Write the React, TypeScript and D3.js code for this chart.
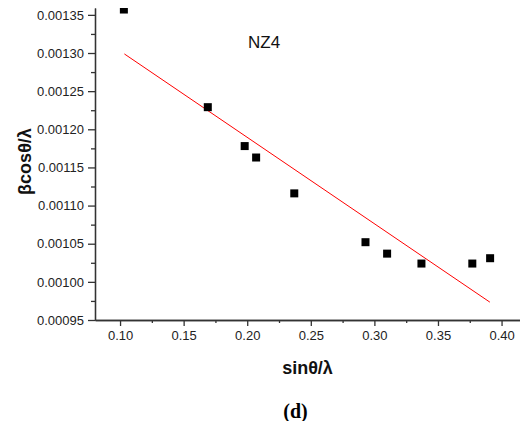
import React, { useEffect, useRef } from "react";
import * as d3 from "d3";

// sinθ/λ and βcosθ/λ
const sinThetaOverLambda = [0.103, 0.169, 0.198, 0.207, 0.237, 0.293, 0.31, 0.337, 0.377, 0.391];
const betaCosOverLambda = [
  0.001357, 0.001229, 0.001178, 0.001163, 0.001116, 0.001052, 0.001037, 0.001024, 0.001024, 0.001031,
];
// linear fit end points
const fitX = [0.1034, 0.3908];
const fitY = [0.0012988, 0.0009734];

const xTicks = [0.1, 0.15, 0.2, 0.25, 0.3, 0.35, 0.4];
const xMinorTicks = [0.125, 0.175, 0.225, 0.275, 0.325, 0.375];
const yTicks = [0.00095, 0.001, 0.00105, 0.0011, 0.00115, 0.0012, 0.00125, 0.0013, 0.00135];
const yMinorTicks = [0.000975, 0.001025, 0.001075, 0.001125, 0.001175, 0.001225, 0.001275, 0.001325];

const label = "NZ4";
const xLabel = "sinθ/λ";
const yLabel = "βcosθ/λ";
const caption = "(d)";

const sans = "Arial, 'Liberation Sans', sans-serif";

export default function App() {
  const width = 520,
    height = 421,
    left = 95,
    right = 520,
    top = 8,
    bottom = 320;

  const x = d3.scaleLinear().domain([0.0803, 0.4145]).range([left, right]);
  const y = d3.scaleLinear().domain([0.00095, 0.001359]).range([bottom, top]);

  const xRef = useRef<SVGGElement>(null);
  const xMinRef = useRef<SVGGElement>(null);
  const yRef = useRef<SVGGElement>(null);
  const yMinRef = useRef<SVGGElement>(null);

  useEffect(() => {
    const style = (g: any) => {
      g.selectAll("path,line").attr("stroke", "#333").attr("stroke-width", 1.3);
      g.selectAll("text").attr("fill", "#222").style("font-family", sans).style("font-size", "13px");
    };
    d3.select(xRef.current!)
      .call(d3.axisBottom(x).tickValues(xTicks).tickSize(6).tickSizeOuter(0).tickPadding(5).tickFormat(d3.format(".2f")))
      .call(style);
    d3.select(xMinRef.current!)
      .call(d3.axisBottom(x).tickValues(xMinorTicks).tickSize(3).tickSizeOuter(0).tickFormat(() => ""))
      .call(style);
    d3.select(yRef.current!)
      .call(d3.axisLeft(y).tickValues(yTicks).tickSize(7).tickSizeOuter(0).tickPadding(4).tickFormat(d3.format(".5f")))
      .call(style);
    d3.select(yMinRef.current!)
      .call(d3.axisLeft(y).tickValues(yMinorTicks).tickSize(4).tickSizeOuter(0).tickFormat(() => ""))
      .call(style);
  }, []);

  const sq = 8;

  return (
    <svg width={width} height={height} style={{ position: "absolute", left: 0, top: 0, background: "#fff" }}>
      <defs>
        <clipPath id="plot">
          <rect x={left} y={top} width={right - left} height={bottom - top} />
        </clipPath>
      </defs>
      <g clipPath="url(#plot)">
        <line
          x1={x(fitX[0])}
          y1={y(fitY[0])}
          x2={x(fitX[1])}
          y2={y(fitY[1])}
          stroke="#ff0000"
          strokeWidth={1}
        />
        {sinThetaOverLambda.map((d, i) => (
          <rect
            key={i}
            x={x(d) - sq / 2}
            y={y(betaCosOverLambda[i]) - sq / 2}
            width={sq}
            height={sq}
            fill="#000"
          />
        ))}
      </g>
      <g ref={xMinRef} transform={`translate(0,${bottom})`} />
      <g ref={xRef} transform={`translate(0,${bottom})`} />
      <g ref={yMinRef} transform={`translate(${left},0)`} />
      <g ref={yRef} transform={`translate(${left},0)`} />
      <text x={248} y={47.5} style={{ fontFamily: sans, fontSize: "17px" }} fill="#111">
        {label}
      </text>
      <text
        x={307.5}
        y={374}
        textAnchor="middle"
        style={{ fontFamily: sans, fontSize: "18px", fontWeight: "bold" }}
        fill="#111"
      >
        {xLabel}
      </text>
      <text
        transform={`translate(31,161.5) rotate(-90)`}
        textAnchor="middle"
        style={{ fontFamily: sans, fontSize: "18px", fontWeight: "bold" }}
        fill="#111"
      >
        {yLabel}
      </text>
      <text
        x={295.5}
        y={418}
        textAnchor="middle"
        style={{ fontFamily: "'Liberation Serif', 'Times New Roman', serif", fontSize: "20px", fontWeight: "bold" }}
        fill="#000"
      >
        {caption}
      </text>
    </svg>
  );
}
